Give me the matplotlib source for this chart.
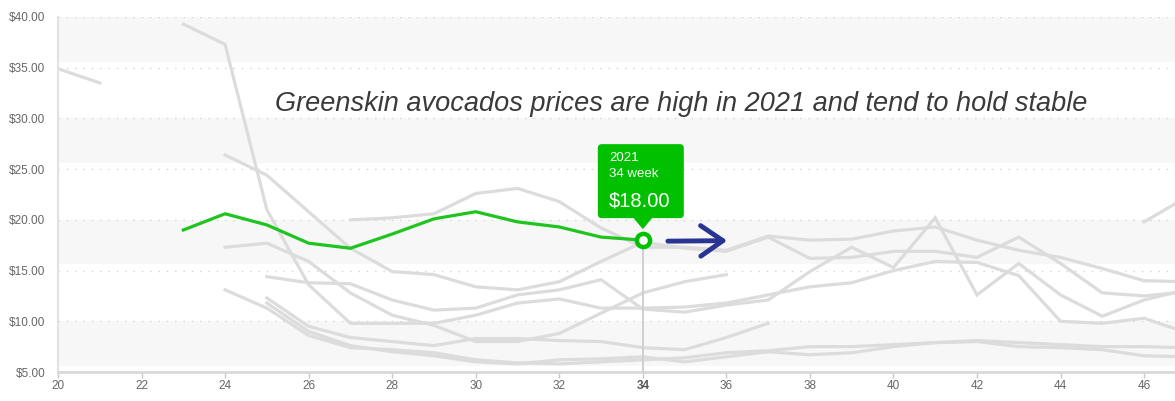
import matplotlib
matplotlib.use("Agg")
import matplotlib.pyplot as plt
from matplotlib.patches import FancyBboxPatch, Polygon
from matplotlib.transforms import IdentityTransform

# ---- data -------------------------------------------------------------
weeks_2021 = list(range(23, 35))
price_2021 = [19.0, 20.6, 19.5, 17.7, 17.2, 18.6, 20.1, 20.8, 19.8, 19.3, 18.3, 18.0]

# other seasons (grey background lines)
weeks_a = [20, 21]
price_a = [34.9, 33.5]

weeks_b = list(range(23, 48))
price_b = [39.3, 37.3, 21.0, 13.6, 9.8, 9.8, 9.8, 10.6, 11.8, 12.2, 11.3, 11.3, 11.4,
           11.8, 12.6, 13.4, 13.8, 15.0, 15.9, 15.8, 14.5, 10.0, 9.8, 10.3, 8.9]

weeks_c = list(range(24, 48))
price_c = [26.4, 24.4, 20.8, 17.2, 14.9, 14.6, 13.4, 13.1, 13.9, 15.9, 17.8, 17.2,
           16.9, 18.3, 16.2, 16.3, 16.9, 16.9, 16.3, 18.3, 15.7, 12.8, 12.5, 12.9]

weeks_d = list(range(24, 37))
price_d = [17.3, 17.7, 15.9, 12.8, 10.6, 9.6, 8.0, 8.0, 8.8, 10.8, 12.8, 13.9, 14.6]

weeks_e = list(range(24, 48))
price_e = [13.1, 11.3, 8.6, 7.4, 7.2, 6.9, 6.2, 5.9, 5.8, 6.0, 6.2, 6.4,
           6.9, 7.1, 7.5, 7.5, 7.7, 7.9, 8.1, 7.9, 7.7, 7.5, 7.5, 7.4]

weeks_f = list(range(25, 48))
price_f = [14.4, 13.8, 13.7, 12.1, 11.1, 11.3, 12.6, 13.1, 14.1, 11.2, 10.9, 11.6,
           12.1, 14.9, 17.3, 15.3, 20.2, 12.6, 15.7, 12.6, 10.5, 12.1, 13.1]

weeks_g = list(range(25, 38))
price_g = [12.3, 9.5, 8.4, 8.0, 7.6, 8.3, 8.3, 8.1, 8.0, 7.4, 7.2, 8.4, 9.8]

weeks_h = list(range(27, 48))
price_h = [20.0, 20.2, 20.6, 22.6, 23.1, 21.8, 19.2, 17.3, 17.3, 17.0, 18.4,
           18.0, 18.1, 18.9, 19.3, 18.0, 17.0, 16.3, 15.2, 14.0, 13.9]

weeks_i = list(range(25, 48))
price_i = [11.8, 9.0, 7.6, 7.0, 6.6, 6.0, 5.8, 6.2, 6.3, 6.5, 6.0, 6.5,
           7.0, 6.7, 6.9, 7.5, 7.9, 8.0, 7.5, 7.4, 7.2, 6.6, 6.5]

weeks_k = [46, 47]
price_k = [19.8, 22.2]

x_ticks = list(range(20, 47, 2))
y_ticks = [5, 10, 15, 20, 25, 30, 35, 40]
sel_year = "2021"
sel_week = 34
sel_price = 18.00
note = "Greenskin avocados prices are high in 2021 and tend to hold stable"

# ---- style --------------------------------------------------------------
GREY_LINE = "#dcdcdc"
GREEN_LINE = "#1fc41f"
GREEN_TIP = "#00c000"
NAVY = "#283593"
plt.rcParams["font.family"] = ["Liberation Sans", "DejaVu Sans"]

fig = plt.figure(figsize=(11.75, 4.01), dpi=100)
ax = fig.add_axes([58 / 1175, 29 / 401, 1 - 58 / 1175, 355 / 401])
ax.set_xlim(20, 46.74)
ax.set_ylim(5, 40)

# alternating bands + dotted grid
for lo, hi in [(5.6, 10), (15.6, 20), (25.6, 30), (35.6, 40)]:
    ax.axhspan(lo, hi, color="#f7f7f7", lw=0, zorder=0)
for y in y_ticks[1:]:
    ax.axhline(y, color="#d4d4d4", lw=1, ls=(0, (1, 5)), zorder=0.5)

grey_series = [(weeks_a, price_a), (weeks_b, price_b), (weeks_c, price_c),
               (weeks_d, price_d), (weeks_e, price_e), (weeks_f, price_f),
               (weeks_g, price_g), (weeks_h, price_h), (weeks_i, price_i),
               (weeks_k, price_k)]
for wk, pr in grey_series:
    ax.plot(wk, pr, color=GREY_LINE, lw=2.3, solid_joinstyle="miter", zorder=2)

# crosshair + highlighted season
ax.vlines(sel_week, 5, sel_price, color="#cfcfcf", lw=1.4, zorder=3)
ax.plot(weeks_2021, price_2021, color=GREEN_LINE, lw=2.3, zorder=4)
ax.plot([sel_week], [sel_price], "o", ms=9.5, mfc="white", mec=GREEN_TIP,
        mew=3.2, zorder=5)

# axes cosmetics
for s in ["top", "right"]:
    ax.spines[s].set_visible(False)
ax.spines["left"].set_color("#e2e2e2")
ax.spines["left"].set_linewidth(1.5)
ax.spines["bottom"].set_color("#d8d8d8")
ax.spines["bottom"].set_linewidth(2)
ax.set_xticks(x_ticks)
ax.set_yticks(y_ticks)
ax.set_yticklabels([f"${v:.2f}" for v in y_ticks])
ax.tick_params(axis="y", length=0, pad=9, labelsize=8.5, labelcolor="#666666")
ax.tick_params(axis="x", length=4, width=1, color="#c8c8c8", pad=2,
               labelsize=8.5, labelcolor="#666666")
for lbl in ax.get_xticklabels():
    if lbl.get_text() == str(sel_week):
        lbl.set_fontweight("bold")
        lbl.set_color("#555555")

# handwritten note
ax.text(25.2, 31.4, note, fontsize=19.5, style="italic", color="#3a3a3a",
        ha="left", va="center", zorder=6)

# arrow
ax.annotate("", xy=(36.02, 17.95), xytext=(34.6, 17.9),
            arrowprops=dict(arrowstyle="->,head_length=0.8,head_width=0.55",
                            color=NAVY, lw=3.5, mutation_scale=20,
                            capstyle="round", joinstyle="round",
                            shrinkA=0, shrinkB=0), zorder=6)

# tooltip (pixel offsets from the selected point)
px, py = ax.transData.transform((sel_week, sel_price))
ident = IdentityTransform()
box = FancyBboxPatch((px - 45, py + 22), 86, 74,
                     boxstyle="round,pad=0,rounding_size=4",
                     fc=GREEN_TIP, ec="none", transform=ident, zorder=7)
fig.add_artist(box)
fig.add_artist(Polygon([(px - 10, py + 23), (px + 10, py + 23), (px, py + 11)],
                       closed=True, fc=GREEN_TIP, ec="none", transform=ident,
                       zorder=7))
fig.text(px - 34, py + 79, sel_year, color="white", fontsize=9.5,
         transform=ident, va="baseline", zorder=8)
fig.text(px - 34, py + 63, f"{sel_week} week", color="white", fontsize=9.5,
         transform=ident, va="baseline", zorder=8)
fig.text(px - 34, py + 34, f"${sel_price:.2f}", color="white", fontsize=14.5,
         transform=ident, va="baseline", zorder=8)

fig.savefig("out.png", dpi=100)
